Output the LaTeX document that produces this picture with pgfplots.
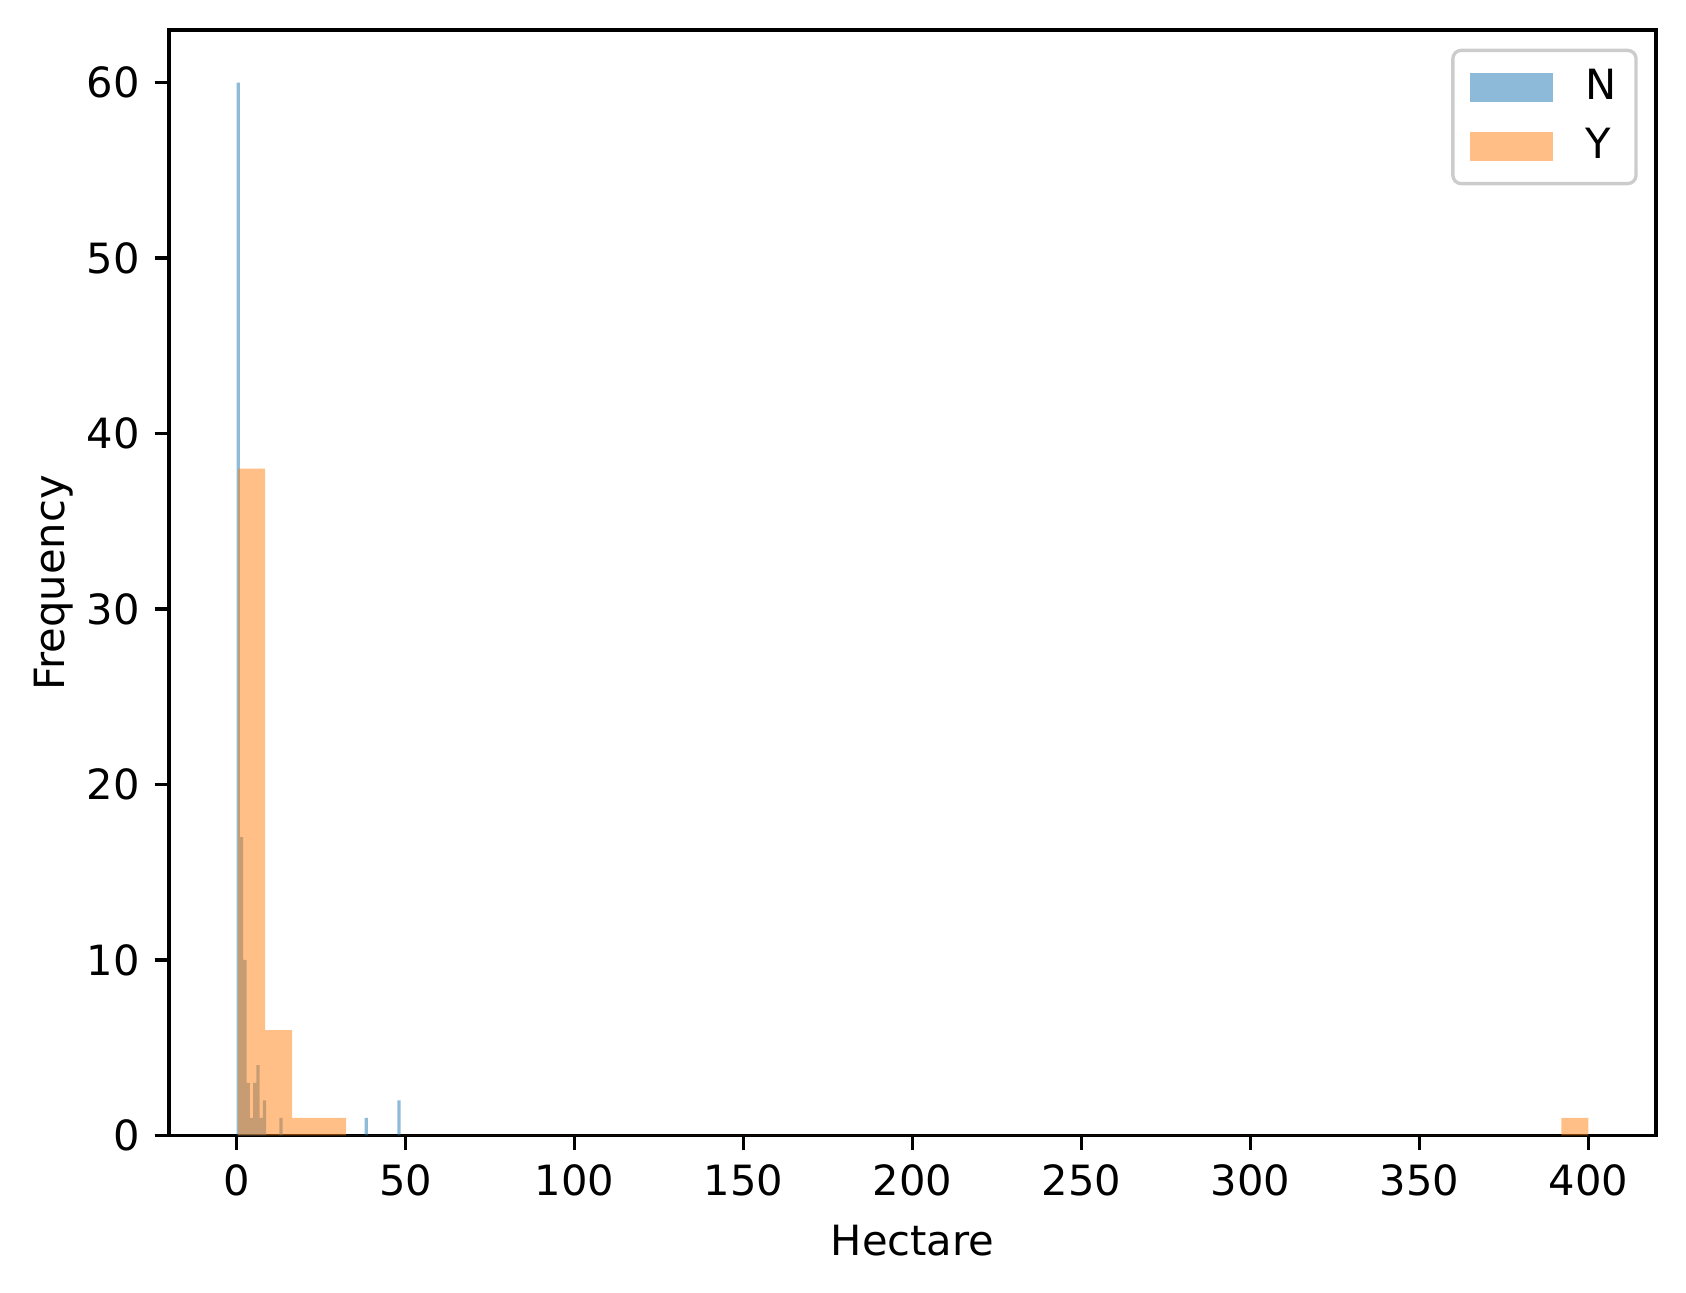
\documentclass[border=0pt]{standalone}
\usepackage{fontspec}
\setmainfont{DejaVu Sans}
\usepackage{pgfplots}
\pgfplotsset{compat=1.18}
\definecolor{mplblue}{HTML}{1F77B4}
\definecolor{mplorange}{HTML}{FF7F0E}
\pgfplotsset{
  mplpatch/.style={legend image code/.code={\path (0pt,0pt); \fill[##1, sharp corners] (1.3pt,-3.5pt) rectangle (21.3pt,3.5pt);}},
}

\begin{document}
\begin{tikzpicture}
\begin{axis}[
  scale only axis,
  width=357pt, height=265.4pt,
  xmin=-20, xmax=420, ymin=0, ymax=63,
  xtick={0,50,...,400}, ytick={0,10,...,60},
  tick align=outside, xtick pos=bottom, ytick pos=left,
  major tick length=3.5pt,
  every tick/.style={black, line width=0.8pt},
  axis line style={line width=0.8pt},
  /pgf/number format/assume math mode=true,
  tick label style={font=\fontsize{10}{12}\selectfont},
  label style={font=\fontsize{10}{12}\selectfont},
  xlabel={Hectare}, ylabel={Frequency},
  ylabel style={yshift=-3.6pt},
  legend cell align=left,
  legend style={at={(1,1)}, anchor=north east, xshift=-4.4pt, yshift=-4.5pt,
    draw=black!20, line width=0.8pt, rounded corners=2pt,
    fill=white, fill opacity=0.8, text opacity=1,
    font=\fontsize{10}{12}\selectfont,
    inner xsep=2.7pt, inner ysep=2.6pt, row sep=1.2pt,
    /tikz/every odd column/.append style={column sep=5.8pt}},
]
% N: 50 bins from 0 to 48.5
\addplot[ybar interval, fill=mplblue, fill opacity=0.5, draw=none, mplpatch] coordinates {
  (0,60) (0.97,17) (1.94,10) (2.91,3) (3.88,1) (4.85,3) (5.82,4) (6.79,1)
  (7.76,2) (8.73,0) (12.61,1) (13.58,0) (37.83,1) (38.80,0) (47.53,2) (48.50,0)
};
\addlegendentry{N}
% Y: 50 bins from 0.4 to 400
\addplot[ybar interval, fill=mplorange, fill opacity=0.5, draw=none, mplpatch] coordinates {
  (0.40,38) (8.39,6) (16.38,1) (24.38,1) (32.37,0) (392.01,1) (400.00,0)
};
\addlegendentry{Y}
\end{axis}
\pgfresetboundingbox
\useasboundingbox ([xshift=-40.6pt,yshift=-37.7pt]current axis.south west) rectangle ([xshift=7.2pt,yshift=7.2pt]current axis.north east);
\end{tikzpicture}
\end{document}
